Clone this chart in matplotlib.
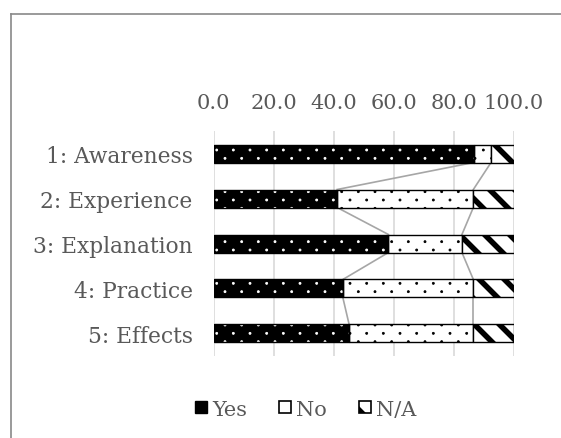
import matplotlib
matplotlib.use("Agg")
import matplotlib.pyplot as plt
import matplotlib.hatch as mhatch
from matplotlib.path import Path
from matplotlib.patches import Patch
from matplotlib.lines import Line2D
import numpy as np

categories = ["1: Awareness", "2: Experience", "3: Explanation", "4: Practice", "5: Effects"]
yes_vals = [86.7, 41.2, 58.3, 43.1, 45.2]
no_vals = [5.8, 45.4, 24.5, 43.5, 41.4]
na_vals = [7.5, 13.4, 17.2, 13.4, 13.4]
series_names = ["Yes", "No", "N/A"]
tick_values = [0, 20, 40, 60, 80, 100]

TEXT = "#595959"
GRID = "#d9d9d9"
SERIES_LINE = "#a6a6a6"
FS = 15
FS_CAT = 15.7


class SparseDots(mhatch.HatchPatternBase):
    """Small dots: staggered rows, twice as many rows as columns."""
    filled = True
    size = 0.06

    def __init__(self, hatch, density):
        self.cols = hatch.count('.') * density
        self.rows = 2 * self.cols
        circle = Path.unit_circle()
        self.shape_vertices = circle.vertices
        self.shape_codes = circle.codes
        if self.cols == 0:
            self.num_vertices = 0
            return
        self.centres = []
        for r in range(self.rows + 1):
            if r % 2 == 0:
                xs = np.linspace(0, 1, self.cols + 1)
            else:
                xs = np.linspace(0.5 / self.cols, 1 - 0.5 / self.cols, self.cols)
            self.centres += [(x, r / self.rows) for x in xs]
        self.num_vertices = len(self.centres) * len(self.shape_vertices)

    def set_vertices_and_codes(self, vertices, codes):
        shape = self.shape_vertices * self.size / self.cols
        np.concatenate([shape + c for c in self.centres], out=vertices)
        np.concatenate([self.shape_codes] * len(self.centres), out=codes)


BackDiag = mhatch.SouthEastHatch


class WideBackDiag(BackDiag):
    """Back-diagonal stripes, eight per hatch unit."""
    def __init__(self, hatch, density):
        super().__init__(hatch, density * 4 // 3)


mhatch._hatch_types = [
    SparseDots if t is mhatch.SmallFilledCircles else
    WideBackDiag if t is BackDiag else t
    for t in mhatch._hatch_types
]

plt.rcParams["font.family"] = ["DejaVu Serif"]

fig = plt.figure(figsize=(5.61, 4.39), dpi=100)
ax = fig.add_axes([0.3806, 0.1868, 0.5348, 0.5125])

y = np.arange(len(categories))
h = 0.4
yes = np.array(yes_vals)
no = np.array(no_vals)
na = np.array(na_vals)

# Yes: black with white dots
plt.rcParams["hatch.linewidth"] = 0.6
ax.barh(y, yes, height=h, facecolor="black", edgecolor="white", hatch=".", linewidth=0, zorder=3)
ax.barh(y, yes, height=h, fill=False, edgecolor="black", linewidth=1.0, zorder=4)
# No: white with black dots
ax.barh(y, no, left=yes, height=h, facecolor="white", edgecolor="black", hatch=".", linewidth=1.0, zorder=3)
# N/A: bold diagonal stripes
plt.rcParams["hatch.linewidth"] = 4.0
ax.barh(y, na, left=yes + no, height=h, facecolor="white", edgecolor="black", hatch="\\", linewidth=1.0, zorder=3)

# Series lines joining segment boundaries between neighbouring bars
cum1 = yes
cum2 = yes + no
for i in range(len(categories) - 1):
    for c in (cum1, cum2):
        ax.plot([c[i], c[i + 1]], [y[i] + h / 2, y[i + 1] - h / 2],
                color=SERIES_LINE, linewidth=1.2, zorder=2)

ax.set_xlim(0, 100)
ax.set_ylim(len(categories) - 0.5, -0.5)
ax.set_xticks(tick_values)
ax.set_xticklabels([f"{v:.1f}" for v in tick_values])
ax.set_yticks(y)
ax.set_yticklabels(categories)
ax.xaxis.tick_top()
ax.tick_params(axis="x", length=0, pad=14, labelsize=FS, labelcolor=TEXT)
ax.tick_params(axis="y", length=0, pad=15, labelsize=FS_CAT, labelcolor=TEXT)
ax.grid(axis="x", color=GRID, linewidth=1.2, zorder=0)
ax.set_axisbelow(True)
for s in ax.spines.values():
    s.set_visible(False)

plt.rcParams["hatch.linewidth"] = 3.0
handles = [
    Patch(facecolor="black", edgecolor="black", label=series_names[0]),
    Patch(facecolor="white", edgecolor="black", linewidth=1.2, label=series_names[1]),
    Patch(facecolor="white", edgecolor="black", hatch="\\", linewidth=1.2, label=series_names[2]),
]
leg = fig.legend(handles=handles, loc="center", bbox_to_anchor=(0.545, 0.066), ncol=3,
                 frameon=False, fontsize=FS, handlelength=0.55, handleheight=0.55,
                 handletextpad=0.25, columnspacing=1.55)
for t in leg.get_texts():
    t.set_color(TEXT)

# Chart-area border (left and top edges)
x0 = 10.5 / 561
y0 = 1 - 14.5 / 439
fig.add_artist(Line2D([x0, 1.0], [y0, y0], transform=fig.transFigure, color="#898989", linewidth=1.2))
fig.add_artist(Line2D([x0, x0], [0.0, y0], transform=fig.transFigure, color="#898989", linewidth=1.2))

fig.savefig("out.png", dpi=100)
